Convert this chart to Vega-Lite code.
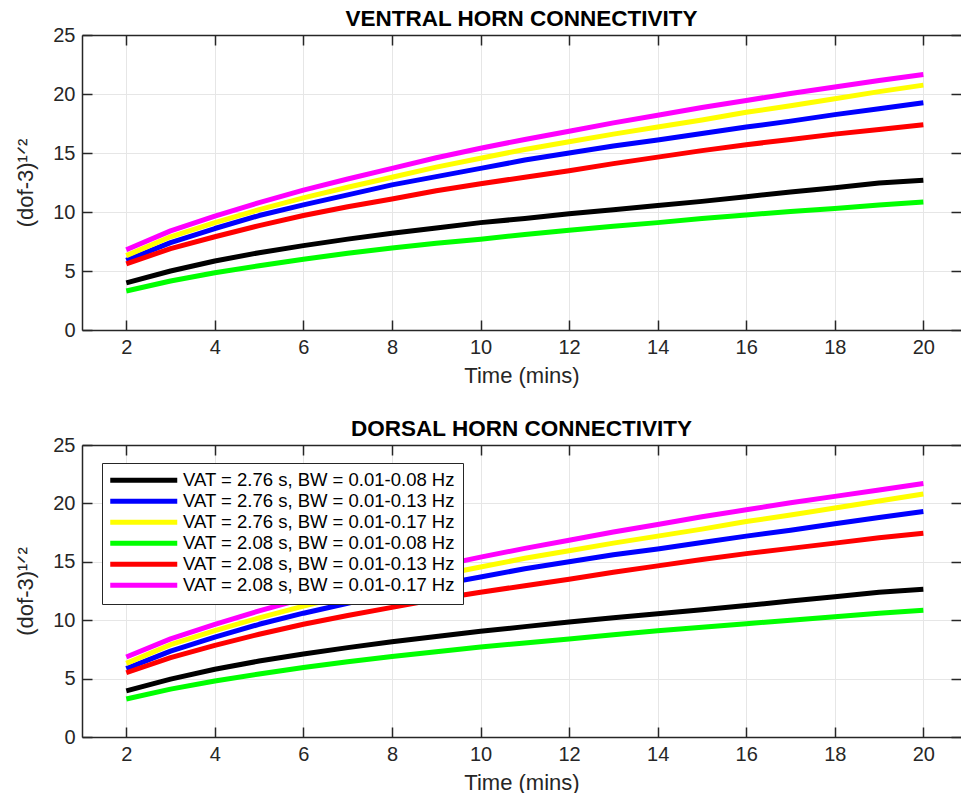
{
  "$schema": "https://vega.github.io/schema/vega-lite/v6.json",
  "padding": {"left": 14, "top": 7, "right": 0, "bottom": 0},
  "datasets": {
    "curves": [
      {"p":"V","s":"VAT = 2.76 s, BW = 0.01-0.08 Hz","t":2,"v":4.0},{"p":"V","s":"VAT = 2.76 s, BW = 0.01-0.08 Hz","t":3,"v":5.0},{"p":"V","s":"VAT = 2.76 s, BW = 0.01-0.08 Hz","t":4,"v":5.85},{"p":"V","s":"VAT = 2.76 s, BW = 0.01-0.08 Hz","t":5,"v":6.55},{"p":"V","s":"VAT = 2.76 s, BW = 0.01-0.08 Hz","t":6,"v":7.15},{"p":"V","s":"VAT = 2.76 s, BW = 0.01-0.08 Hz","t":7,"v":7.7},{"p":"V","s":"VAT = 2.76 s, BW = 0.01-0.08 Hz","t":8,"v":8.2},{"p":"V","s":"VAT = 2.76 s, BW = 0.01-0.08 Hz","t":9,"v":8.65},{"p":"V","s":"VAT = 2.76 s, BW = 0.01-0.08 Hz","t":10,"v":9.1},{"p":"V","s":"VAT = 2.76 s, BW = 0.01-0.08 Hz","t":11,"v":9.45},{"p":"V","s":"VAT = 2.76 s, BW = 0.01-0.08 Hz","t":12,"v":9.85},{"p":"V","s":"VAT = 2.76 s, BW = 0.01-0.08 Hz","t":13,"v":10.2},{"p":"V","s":"VAT = 2.76 s, BW = 0.01-0.08 Hz","t":14,"v":10.55},{"p":"V","s":"VAT = 2.76 s, BW = 0.01-0.08 Hz","t":15,"v":10.9},{"p":"V","s":"VAT = 2.76 s, BW = 0.01-0.08 Hz","t":16,"v":11.3},{"p":"V","s":"VAT = 2.76 s, BW = 0.01-0.08 Hz","t":17,"v":11.7},{"p":"V","s":"VAT = 2.76 s, BW = 0.01-0.08 Hz","t":18,"v":12.05},{"p":"V","s":"VAT = 2.76 s, BW = 0.01-0.08 Hz","t":19,"v":12.45},{"p":"V","s":"VAT = 2.76 s, BW = 0.01-0.08 Hz","t":20,"v":12.7},
      {"p":"V","s":"VAT = 2.76 s, BW = 0.01-0.13 Hz","t":2,"v":5.9},{"p":"V","s":"VAT = 2.76 s, BW = 0.01-0.13 Hz","t":3,"v":7.4},{"p":"V","s":"VAT = 2.76 s, BW = 0.01-0.13 Hz","t":4,"v":8.6},{"p":"V","s":"VAT = 2.76 s, BW = 0.01-0.13 Hz","t":5,"v":9.7},{"p":"V","s":"VAT = 2.76 s, BW = 0.01-0.13 Hz","t":6,"v":10.6},{"p":"V","s":"VAT = 2.76 s, BW = 0.01-0.13 Hz","t":7,"v":11.45},{"p":"V","s":"VAT = 2.76 s, BW = 0.01-0.13 Hz","t":8,"v":12.3},{"p":"V","s":"VAT = 2.76 s, BW = 0.01-0.13 Hz","t":9,"v":13.0},{"p":"V","s":"VAT = 2.76 s, BW = 0.01-0.13 Hz","t":10,"v":13.7},{"p":"V","s":"VAT = 2.76 s, BW = 0.01-0.13 Hz","t":11,"v":14.4},{"p":"V","s":"VAT = 2.76 s, BW = 0.01-0.13 Hz","t":12,"v":15.0},{"p":"V","s":"VAT = 2.76 s, BW = 0.01-0.13 Hz","t":13,"v":15.6},{"p":"V","s":"VAT = 2.76 s, BW = 0.01-0.13 Hz","t":14,"v":16.1},{"p":"V","s":"VAT = 2.76 s, BW = 0.01-0.13 Hz","t":15,"v":16.65},{"p":"V","s":"VAT = 2.76 s, BW = 0.01-0.13 Hz","t":16,"v":17.2},{"p":"V","s":"VAT = 2.76 s, BW = 0.01-0.13 Hz","t":17,"v":17.7},{"p":"V","s":"VAT = 2.76 s, BW = 0.01-0.13 Hz","t":18,"v":18.25},{"p":"V","s":"VAT = 2.76 s, BW = 0.01-0.13 Hz","t":19,"v":18.75},{"p":"V","s":"VAT = 2.76 s, BW = 0.01-0.13 Hz","t":20,"v":19.25},
      {"p":"V","s":"VAT = 2.76 s, BW = 0.01-0.17 Hz","t":2,"v":6.3},{"p":"V","s":"VAT = 2.76 s, BW = 0.01-0.17 Hz","t":3,"v":7.9},{"p":"V","s":"VAT = 2.76 s, BW = 0.01-0.17 Hz","t":4,"v":9.1},{"p":"V","s":"VAT = 2.76 s, BW = 0.01-0.17 Hz","t":5,"v":10.2},{"p":"V","s":"VAT = 2.76 s, BW = 0.01-0.17 Hz","t":6,"v":11.2},{"p":"V","s":"VAT = 2.76 s, BW = 0.01-0.17 Hz","t":7,"v":12.1},{"p":"V","s":"VAT = 2.76 s, BW = 0.01-0.17 Hz","t":8,"v":12.95},{"p":"V","s":"VAT = 2.76 s, BW = 0.01-0.17 Hz","t":9,"v":13.8},{"p":"V","s":"VAT = 2.76 s, BW = 0.01-0.17 Hz","t":10,"v":14.55},{"p":"V","s":"VAT = 2.76 s, BW = 0.01-0.17 Hz","t":11,"v":15.3},{"p":"V","s":"VAT = 2.76 s, BW = 0.01-0.17 Hz","t":12,"v":15.95},{"p":"V","s":"VAT = 2.76 s, BW = 0.01-0.17 Hz","t":13,"v":16.6},{"p":"V","s":"VAT = 2.76 s, BW = 0.01-0.17 Hz","t":14,"v":17.2},{"p":"V","s":"VAT = 2.76 s, BW = 0.01-0.17 Hz","t":15,"v":17.8},{"p":"V","s":"VAT = 2.76 s, BW = 0.01-0.17 Hz","t":16,"v":18.45},{"p":"V","s":"VAT = 2.76 s, BW = 0.01-0.17 Hz","t":17,"v":19.0},{"p":"V","s":"VAT = 2.76 s, BW = 0.01-0.17 Hz","t":18,"v":19.6},{"p":"V","s":"VAT = 2.76 s, BW = 0.01-0.17 Hz","t":19,"v":20.2},{"p":"V","s":"VAT = 2.76 s, BW = 0.01-0.17 Hz","t":20,"v":20.75},
      {"p":"V","s":"VAT = 2.08 s, BW = 0.01-0.08 Hz","t":2,"v":3.3},{"p":"V","s":"VAT = 2.08 s, BW = 0.01-0.08 Hz","t":3,"v":4.15},{"p":"V","s":"VAT = 2.08 s, BW = 0.01-0.08 Hz","t":4,"v":4.85},{"p":"V","s":"VAT = 2.08 s, BW = 0.01-0.08 Hz","t":5,"v":5.45},{"p":"V","s":"VAT = 2.08 s, BW = 0.01-0.08 Hz","t":6,"v":6.0},{"p":"V","s":"VAT = 2.08 s, BW = 0.01-0.08 Hz","t":7,"v":6.5},{"p":"V","s":"VAT = 2.08 s, BW = 0.01-0.08 Hz","t":8,"v":6.95},{"p":"V","s":"VAT = 2.08 s, BW = 0.01-0.08 Hz","t":9,"v":7.35},{"p":"V","s":"VAT = 2.08 s, BW = 0.01-0.08 Hz","t":10,"v":7.7},{"p":"V","s":"VAT = 2.08 s, BW = 0.01-0.08 Hz","t":11,"v":8.1},{"p":"V","s":"VAT = 2.08 s, BW = 0.01-0.08 Hz","t":12,"v":8.45},{"p":"V","s":"VAT = 2.08 s, BW = 0.01-0.08 Hz","t":13,"v":8.8},{"p":"V","s":"VAT = 2.08 s, BW = 0.01-0.08 Hz","t":14,"v":9.1},{"p":"V","s":"VAT = 2.08 s, BW = 0.01-0.08 Hz","t":15,"v":9.45},{"p":"V","s":"VAT = 2.08 s, BW = 0.01-0.08 Hz","t":16,"v":9.75},{"p":"V","s":"VAT = 2.08 s, BW = 0.01-0.08 Hz","t":17,"v":10.05},{"p":"V","s":"VAT = 2.08 s, BW = 0.01-0.08 Hz","t":18,"v":10.3},{"p":"V","s":"VAT = 2.08 s, BW = 0.01-0.08 Hz","t":19,"v":10.6},{"p":"V","s":"VAT = 2.08 s, BW = 0.01-0.08 Hz","t":20,"v":10.85},
      {"p":"V","s":"VAT = 2.08 s, BW = 0.01-0.13 Hz","t":2,"v":5.6},{"p":"V","s":"VAT = 2.08 s, BW = 0.01-0.13 Hz","t":3,"v":6.9},{"p":"V","s":"VAT = 2.08 s, BW = 0.01-0.13 Hz","t":4,"v":7.9},{"p":"V","s":"VAT = 2.08 s, BW = 0.01-0.13 Hz","t":5,"v":8.85},{"p":"V","s":"VAT = 2.08 s, BW = 0.01-0.13 Hz","t":6,"v":9.7},{"p":"V","s":"VAT = 2.08 s, BW = 0.01-0.13 Hz","t":7,"v":10.45},{"p":"V","s":"VAT = 2.08 s, BW = 0.01-0.13 Hz","t":8,"v":11.1},{"p":"V","s":"VAT = 2.08 s, BW = 0.01-0.13 Hz","t":9,"v":11.8},{"p":"V","s":"VAT = 2.08 s, BW = 0.01-0.13 Hz","t":10,"v":12.4},{"p":"V","s":"VAT = 2.08 s, BW = 0.01-0.13 Hz","t":11,"v":12.95},{"p":"V","s":"VAT = 2.08 s, BW = 0.01-0.13 Hz","t":12,"v":13.5},{"p":"V","s":"VAT = 2.08 s, BW = 0.01-0.13 Hz","t":13,"v":14.1},{"p":"V","s":"VAT = 2.08 s, BW = 0.01-0.13 Hz","t":14,"v":14.65},{"p":"V","s":"VAT = 2.08 s, BW = 0.01-0.13 Hz","t":15,"v":15.2},{"p":"V","s":"VAT = 2.08 s, BW = 0.01-0.13 Hz","t":16,"v":15.7},{"p":"V","s":"VAT = 2.08 s, BW = 0.01-0.13 Hz","t":17,"v":16.15},{"p":"V","s":"VAT = 2.08 s, BW = 0.01-0.13 Hz","t":18,"v":16.6},{"p":"V","s":"VAT = 2.08 s, BW = 0.01-0.13 Hz","t":19,"v":17.0},{"p":"V","s":"VAT = 2.08 s, BW = 0.01-0.13 Hz","t":20,"v":17.4},
      {"p":"V","s":"VAT = 2.08 s, BW = 0.01-0.17 Hz","t":2,"v":6.8},{"p":"V","s":"VAT = 2.08 s, BW = 0.01-0.17 Hz","t":3,"v":8.4},{"p":"V","s":"VAT = 2.08 s, BW = 0.01-0.17 Hz","t":4,"v":9.65},{"p":"V","s":"VAT = 2.08 s, BW = 0.01-0.17 Hz","t":5,"v":10.8},{"p":"V","s":"VAT = 2.08 s, BW = 0.01-0.17 Hz","t":6,"v":11.85},{"p":"V","s":"VAT = 2.08 s, BW = 0.01-0.17 Hz","t":7,"v":12.8},{"p":"V","s":"VAT = 2.08 s, BW = 0.01-0.17 Hz","t":8,"v":13.7},{"p":"V","s":"VAT = 2.08 s, BW = 0.01-0.17 Hz","t":9,"v":14.6},{"p":"V","s":"VAT = 2.08 s, BW = 0.01-0.17 Hz","t":10,"v":15.4},{"p":"V","s":"VAT = 2.08 s, BW = 0.01-0.17 Hz","t":11,"v":16.15},{"p":"V","s":"VAT = 2.08 s, BW = 0.01-0.17 Hz","t":12,"v":16.85},{"p":"V","s":"VAT = 2.08 s, BW = 0.01-0.17 Hz","t":13,"v":17.55},{"p":"V","s":"VAT = 2.08 s, BW = 0.01-0.17 Hz","t":14,"v":18.2},{"p":"V","s":"VAT = 2.08 s, BW = 0.01-0.17 Hz","t":15,"v":18.85},{"p":"V","s":"VAT = 2.08 s, BW = 0.01-0.17 Hz","t":16,"v":19.45},{"p":"V","s":"VAT = 2.08 s, BW = 0.01-0.17 Hz","t":17,"v":20.05},{"p":"V","s":"VAT = 2.08 s, BW = 0.01-0.17 Hz","t":18,"v":20.6},{"p":"V","s":"VAT = 2.08 s, BW = 0.01-0.17 Hz","t":19,"v":21.15},{"p":"V","s":"VAT = 2.08 s, BW = 0.01-0.17 Hz","t":20,"v":21.65},
      {"p":"D","s":"VAT = 2.76 s, BW = 0.01-0.08 Hz","t":2,"v":3.95},{"p":"D","s":"VAT = 2.76 s, BW = 0.01-0.08 Hz","t":3,"v":4.95},{"p":"D","s":"VAT = 2.76 s, BW = 0.01-0.08 Hz","t":4,"v":5.8},{"p":"D","s":"VAT = 2.76 s, BW = 0.01-0.08 Hz","t":5,"v":6.5},{"p":"D","s":"VAT = 2.76 s, BW = 0.01-0.08 Hz","t":6,"v":7.1},{"p":"D","s":"VAT = 2.76 s, BW = 0.01-0.08 Hz","t":7,"v":7.65},{"p":"D","s":"VAT = 2.76 s, BW = 0.01-0.08 Hz","t":8,"v":8.15},{"p":"D","s":"VAT = 2.76 s, BW = 0.01-0.08 Hz","t":9,"v":8.6},{"p":"D","s":"VAT = 2.76 s, BW = 0.01-0.08 Hz","t":10,"v":9.05},{"p":"D","s":"VAT = 2.76 s, BW = 0.01-0.08 Hz","t":11,"v":9.45},{"p":"D","s":"VAT = 2.76 s, BW = 0.01-0.08 Hz","t":12,"v":9.85},{"p":"D","s":"VAT = 2.76 s, BW = 0.01-0.08 Hz","t":13,"v":10.2},{"p":"D","s":"VAT = 2.76 s, BW = 0.01-0.08 Hz","t":14,"v":10.55},{"p":"D","s":"VAT = 2.76 s, BW = 0.01-0.08 Hz","t":15,"v":10.9},{"p":"D","s":"VAT = 2.76 s, BW = 0.01-0.08 Hz","t":16,"v":11.25},{"p":"D","s":"VAT = 2.76 s, BW = 0.01-0.08 Hz","t":17,"v":11.65},{"p":"D","s":"VAT = 2.76 s, BW = 0.01-0.08 Hz","t":18,"v":12.0},{"p":"D","s":"VAT = 2.76 s, BW = 0.01-0.08 Hz","t":19,"v":12.4},{"p":"D","s":"VAT = 2.76 s, BW = 0.01-0.08 Hz","t":20,"v":12.65},
      {"p":"D","s":"VAT = 2.76 s, BW = 0.01-0.13 Hz","t":2,"v":5.85},{"p":"D","s":"VAT = 2.76 s, BW = 0.01-0.13 Hz","t":3,"v":7.35},{"p":"D","s":"VAT = 2.76 s, BW = 0.01-0.13 Hz","t":4,"v":8.55},{"p":"D","s":"VAT = 2.76 s, BW = 0.01-0.13 Hz","t":5,"v":9.65},{"p":"D","s":"VAT = 2.76 s, BW = 0.01-0.13 Hz","t":6,"v":10.6},{"p":"D","s":"VAT = 2.76 s, BW = 0.01-0.13 Hz","t":7,"v":11.45},{"p":"D","s":"VAT = 2.76 s, BW = 0.01-0.13 Hz","t":8,"v":12.3},{"p":"D","s":"VAT = 2.76 s, BW = 0.01-0.13 Hz","t":9,"v":13.0},{"p":"D","s":"VAT = 2.76 s, BW = 0.01-0.13 Hz","t":10,"v":13.7},{"p":"D","s":"VAT = 2.76 s, BW = 0.01-0.13 Hz","t":11,"v":14.4},{"p":"D","s":"VAT = 2.76 s, BW = 0.01-0.13 Hz","t":12,"v":15.0},{"p":"D","s":"VAT = 2.76 s, BW = 0.01-0.13 Hz","t":13,"v":15.6},{"p":"D","s":"VAT = 2.76 s, BW = 0.01-0.13 Hz","t":14,"v":16.1},{"p":"D","s":"VAT = 2.76 s, BW = 0.01-0.13 Hz","t":15,"v":16.65},{"p":"D","s":"VAT = 2.76 s, BW = 0.01-0.13 Hz","t":16,"v":17.2},{"p":"D","s":"VAT = 2.76 s, BW = 0.01-0.13 Hz","t":17,"v":17.7},{"p":"D","s":"VAT = 2.76 s, BW = 0.01-0.13 Hz","t":18,"v":18.25},{"p":"D","s":"VAT = 2.76 s, BW = 0.01-0.13 Hz","t":19,"v":18.8},{"p":"D","s":"VAT = 2.76 s, BW = 0.01-0.13 Hz","t":20,"v":19.3},
      {"p":"D","s":"VAT = 2.76 s, BW = 0.01-0.17 Hz","t":2,"v":6.3},{"p":"D","s":"VAT = 2.76 s, BW = 0.01-0.17 Hz","t":3,"v":7.9},{"p":"D","s":"VAT = 2.76 s, BW = 0.01-0.17 Hz","t":4,"v":9.1},{"p":"D","s":"VAT = 2.76 s, BW = 0.01-0.17 Hz","t":5,"v":10.2},{"p":"D","s":"VAT = 2.76 s, BW = 0.01-0.17 Hz","t":6,"v":11.2},{"p":"D","s":"VAT = 2.76 s, BW = 0.01-0.17 Hz","t":7,"v":12.1},{"p":"D","s":"VAT = 2.76 s, BW = 0.01-0.17 Hz","t":8,"v":12.95},{"p":"D","s":"VAT = 2.76 s, BW = 0.01-0.17 Hz","t":9,"v":13.8},{"p":"D","s":"VAT = 2.76 s, BW = 0.01-0.17 Hz","t":10,"v":14.55},{"p":"D","s":"VAT = 2.76 s, BW = 0.01-0.17 Hz","t":11,"v":15.3},{"p":"D","s":"VAT = 2.76 s, BW = 0.01-0.17 Hz","t":12,"v":15.95},{"p":"D","s":"VAT = 2.76 s, BW = 0.01-0.17 Hz","t":13,"v":16.6},{"p":"D","s":"VAT = 2.76 s, BW = 0.01-0.17 Hz","t":14,"v":17.2},{"p":"D","s":"VAT = 2.76 s, BW = 0.01-0.17 Hz","t":15,"v":17.8},{"p":"D","s":"VAT = 2.76 s, BW = 0.01-0.17 Hz","t":16,"v":18.45},{"p":"D","s":"VAT = 2.76 s, BW = 0.01-0.17 Hz","t":17,"v":19.0},{"p":"D","s":"VAT = 2.76 s, BW = 0.01-0.17 Hz","t":18,"v":19.6},{"p":"D","s":"VAT = 2.76 s, BW = 0.01-0.17 Hz","t":19,"v":20.2},{"p":"D","s":"VAT = 2.76 s, BW = 0.01-0.17 Hz","t":20,"v":20.8},
      {"p":"D","s":"VAT = 2.08 s, BW = 0.01-0.08 Hz","t":2,"v":3.25},{"p":"D","s":"VAT = 2.08 s, BW = 0.01-0.08 Hz","t":3,"v":4.1},{"p":"D","s":"VAT = 2.08 s, BW = 0.01-0.08 Hz","t":4,"v":4.8},{"p":"D","s":"VAT = 2.08 s, BW = 0.01-0.08 Hz","t":5,"v":5.4},{"p":"D","s":"VAT = 2.08 s, BW = 0.01-0.08 Hz","t":6,"v":5.95},{"p":"D","s":"VAT = 2.08 s, BW = 0.01-0.08 Hz","t":7,"v":6.45},{"p":"D","s":"VAT = 2.08 s, BW = 0.01-0.08 Hz","t":8,"v":6.9},{"p":"D","s":"VAT = 2.08 s, BW = 0.01-0.08 Hz","t":9,"v":7.3},{"p":"D","s":"VAT = 2.08 s, BW = 0.01-0.08 Hz","t":10,"v":7.7},{"p":"D","s":"VAT = 2.08 s, BW = 0.01-0.08 Hz","t":11,"v":8.05},{"p":"D","s":"VAT = 2.08 s, BW = 0.01-0.08 Hz","t":12,"v":8.4},{"p":"D","s":"VAT = 2.08 s, BW = 0.01-0.08 Hz","t":13,"v":8.75},{"p":"D","s":"VAT = 2.08 s, BW = 0.01-0.08 Hz","t":14,"v":9.1},{"p":"D","s":"VAT = 2.08 s, BW = 0.01-0.08 Hz","t":15,"v":9.4},{"p":"D","s":"VAT = 2.08 s, BW = 0.01-0.08 Hz","t":16,"v":9.7},{"p":"D","s":"VAT = 2.08 s, BW = 0.01-0.08 Hz","t":17,"v":10.0},{"p":"D","s":"VAT = 2.08 s, BW = 0.01-0.08 Hz","t":18,"v":10.3},{"p":"D","s":"VAT = 2.08 s, BW = 0.01-0.08 Hz","t":19,"v":10.6},{"p":"D","s":"VAT = 2.08 s, BW = 0.01-0.08 Hz","t":20,"v":10.85},
      {"p":"D","s":"VAT = 2.08 s, BW = 0.01-0.13 Hz","t":2,"v":5.5},{"p":"D","s":"VAT = 2.08 s, BW = 0.01-0.13 Hz","t":3,"v":6.8},{"p":"D","s":"VAT = 2.08 s, BW = 0.01-0.13 Hz","t":4,"v":7.85},{"p":"D","s":"VAT = 2.08 s, BW = 0.01-0.13 Hz","t":5,"v":8.8},{"p":"D","s":"VAT = 2.08 s, BW = 0.01-0.13 Hz","t":6,"v":9.65},{"p":"D","s":"VAT = 2.08 s, BW = 0.01-0.13 Hz","t":7,"v":10.4},{"p":"D","s":"VAT = 2.08 s, BW = 0.01-0.13 Hz","t":8,"v":11.1},{"p":"D","s":"VAT = 2.08 s, BW = 0.01-0.13 Hz","t":9,"v":11.8},{"p":"D","s":"VAT = 2.08 s, BW = 0.01-0.13 Hz","t":10,"v":12.4},{"p":"D","s":"VAT = 2.08 s, BW = 0.01-0.13 Hz","t":11,"v":12.95},{"p":"D","s":"VAT = 2.08 s, BW = 0.01-0.13 Hz","t":12,"v":13.5},{"p":"D","s":"VAT = 2.08 s, BW = 0.01-0.13 Hz","t":13,"v":14.1},{"p":"D","s":"VAT = 2.08 s, BW = 0.01-0.13 Hz","t":14,"v":14.65},{"p":"D","s":"VAT = 2.08 s, BW = 0.01-0.13 Hz","t":15,"v":15.2},{"p":"D","s":"VAT = 2.08 s, BW = 0.01-0.13 Hz","t":16,"v":15.7},{"p":"D","s":"VAT = 2.08 s, BW = 0.01-0.13 Hz","t":17,"v":16.15},{"p":"D","s":"VAT = 2.08 s, BW = 0.01-0.13 Hz","t":18,"v":16.6},{"p":"D","s":"VAT = 2.08 s, BW = 0.01-0.13 Hz","t":19,"v":17.05},{"p":"D","s":"VAT = 2.08 s, BW = 0.01-0.13 Hz","t":20,"v":17.45},
      {"p":"D","s":"VAT = 2.08 s, BW = 0.01-0.17 Hz","t":2,"v":6.85},{"p":"D","s":"VAT = 2.08 s, BW = 0.01-0.17 Hz","t":3,"v":8.4},{"p":"D","s":"VAT = 2.08 s, BW = 0.01-0.17 Hz","t":4,"v":9.65},{"p":"D","s":"VAT = 2.08 s, BW = 0.01-0.17 Hz","t":5,"v":10.8},{"p":"D","s":"VAT = 2.08 s, BW = 0.01-0.17 Hz","t":6,"v":11.85},{"p":"D","s":"VAT = 2.08 s, BW = 0.01-0.17 Hz","t":7,"v":12.8},{"p":"D","s":"VAT = 2.08 s, BW = 0.01-0.17 Hz","t":8,"v":13.7},{"p":"D","s":"VAT = 2.08 s, BW = 0.01-0.17 Hz","t":9,"v":14.6},{"p":"D","s":"VAT = 2.08 s, BW = 0.01-0.17 Hz","t":10,"v":15.4},{"p":"D","s":"VAT = 2.08 s, BW = 0.01-0.17 Hz","t":11,"v":16.15},{"p":"D","s":"VAT = 2.08 s, BW = 0.01-0.17 Hz","t":12,"v":16.85},{"p":"D","s":"VAT = 2.08 s, BW = 0.01-0.17 Hz","t":13,"v":17.55},{"p":"D","s":"VAT = 2.08 s, BW = 0.01-0.17 Hz","t":14,"v":18.2},{"p":"D","s":"VAT = 2.08 s, BW = 0.01-0.17 Hz","t":15,"v":18.85},{"p":"D","s":"VAT = 2.08 s, BW = 0.01-0.17 Hz","t":16,"v":19.45},{"p":"D","s":"VAT = 2.08 s, BW = 0.01-0.17 Hz","t":17,"v":20.05},{"p":"D","s":"VAT = 2.08 s, BW = 0.01-0.17 Hz","t":18,"v":20.6},{"p":"D","s":"VAT = 2.08 s, BW = 0.01-0.17 Hz","t":19,"v":21.15},{"p":"D","s":"VAT = 2.08 s, BW = 0.01-0.17 Hz","t":20,"v":21.7}
    ]
  },
  "vconcat": [
    {
      "title": "VENTRAL HORN CONNECTIVITY",
      "width": 879,
      "height": 295,
      "data": {"name": "curves"},
      "transform": [{"filter": "datum.p === 'V'"}],
      "layer": [
        {
          "mark": {"type": "line", "strokeWidth": 5, "strokeCap": "butt", "strokeJoin": "round"},
          "encoding": {
            "x": {"field": "t", "type": "quantitative", "scale": {"domain": [1, 20.85], "nice": false, "zero": false},
                  "axis": {"orient": "bottom", "title": "Time (mins)", "values": [2,4,6,8,10,12,14,16,18,20]}},
            "y": {"field": "v", "type": "quantitative", "scale": {"domain": [0, 25], "nice": false},
                  "axis": {"orient": "left", "title": "(dof-3)¹ᐟ²", "values": [0,5,10,15,20,25]}},
            "color": {"field": "s", "type": "nominal", "legend": null,
                      "scale": {"domain": ["VAT = 2.76 s, BW = 0.01-0.08 Hz","VAT = 2.76 s, BW = 0.01-0.13 Hz","VAT = 2.76 s, BW = 0.01-0.17 Hz","VAT = 2.08 s, BW = 0.01-0.08 Hz","VAT = 2.08 s, BW = 0.01-0.13 Hz","VAT = 2.08 s, BW = 0.01-0.17 Hz"],
                                "range": ["#000000","#0000ff","#ffff00","#00ff00","#ff0000","#ff00ff"]}}
          }
        },
        {
          "mark": {"type": "line", "opacity": 0},
          "encoding": {
            "x": {"field": "t", "type": "quantitative", "scale": {"domain": [1, 20.85], "nice": false, "zero": false},
                  "axis": {"orient": "top", "title": null, "labels": false, "grid": false, "values": [2,4,6,8,10,12,14,16,18,20]}},
            "y": {"field": "v", "type": "quantitative", "scale": {"domain": [0, 25], "nice": false},
                  "axis": {"orient": "right", "title": null, "labels": false, "grid": false, "domain": false, "values": [0,5,10,15,20,25]}},
            "detail": {"field": "s", "type": "nominal"}
          }
        }
      ],
      "resolve": {"axis": {"x": "independent", "y": "independent"}}
    },
    {
      "title": "DORSAL HORN CONNECTIVITY",
      "width": 879,
      "height": 292,
      "data": {"name": "curves"},
      "transform": [{"filter": "datum.p === 'D'"}],
      "layer": [
        {
          "mark": {"type": "line", "strokeWidth": 5, "strokeCap": "butt", "strokeJoin": "round"},
          "encoding": {
            "x": {"field": "t", "type": "quantitative", "scale": {"domain": [1, 20.85], "nice": false, "zero": false},
                  "axis": {"orient": "bottom", "title": "Time (mins)", "values": [2,4,6,8,10,12,14,16,18,20]}},
            "y": {"field": "v", "type": "quantitative", "scale": {"domain": [0, 25], "nice": false},
                  "axis": {"orient": "left", "title": "(dof-3)¹ᐟ²", "values": [0,5,10,15,20,25]}},
            "color": {"field": "s", "type": "nominal",
                      "scale": {"domain": ["VAT = 2.76 s, BW = 0.01-0.08 Hz","VAT = 2.76 s, BW = 0.01-0.13 Hz","VAT = 2.76 s, BW = 0.01-0.17 Hz","VAT = 2.08 s, BW = 0.01-0.08 Hz","VAT = 2.08 s, BW = 0.01-0.13 Hz","VAT = 2.08 s, BW = 0.01-0.17 Hz"],
                                "range": ["#000000","#0000ff","#ffff00","#00ff00","#ff0000","#ff00ff"]},
                      "legend": {"title": null, "orient": "none", "legendX": 20, "legendY": 18,
                                 "symbolType": "M-6.7,0H6.7", "symbolSize": 100, "symbolStrokeWidth": 5,
                                 "symbolOffset": 24.5, "labelOffset": 30,
                                 "labelFont": "Liberation Sans", "labelFontSize": 18.5, "labelColor": "#000000", "labelLimit": 400,
                                 "rowPadding": 0, "padding": 8, "fillColor": "#ffffff", "strokeColor": "#262626", "cornerRadius": 0}}
          }
        },
        {
          "mark": {"type": "line", "opacity": 0},
          "encoding": {
            "x": {"field": "t", "type": "quantitative", "scale": {"domain": [1, 20.85], "nice": false, "zero": false},
                  "axis": {"orient": "top", "title": null, "labels": false, "grid": false, "values": [2,4,6,8,10,12,14,16,18,20]}},
            "y": {"field": "v", "type": "quantitative", "scale": {"domain": [0, 25], "nice": false},
                  "axis": {"orient": "right", "title": null, "labels": false, "grid": false, "domain": false, "values": [0,5,10,15,20,25]}},
            "detail": {"field": "s", "type": "nominal"}
          }
        }
      ],
      "resolve": {"axis": {"x": "independent", "y": "independent"}}
    }
  ],
  "resolve": {"scale": {"color": "independent"}, "legend": {"color": "independent"}},
  "spacing": 31,
  "config": {
    "font": "Liberation Sans",
    "view": {"stroke": null},
    "axis": {
      "domainColor": "#262626", "domainWidth": 1.5,
      "tickColor": "#262626", "tickWidth": 1.5, "tickSize": -10,
      "labelFont": "Liberation Sans", "labelFontSize": 20, "labelColor": "#262626", "labelPadding": 17,
      "titleFont": "Liberation Sans", "titleFontSize": 22, "titleFontWeight": "normal", "titleColor": "#262626", "titlePadding": 15,
      "gridColor": "#e6e6e6", "gridWidth": 1, "grid": true
    },
    "axisX": {"titlePadding": 8},
    "axisY": {"titlePadding": 15},
    "title": {"font": "Liberation Sans", "fontSize": 22.5, "fontWeight": "bold", "color": "#000000", "offset": -5}
  }
}
